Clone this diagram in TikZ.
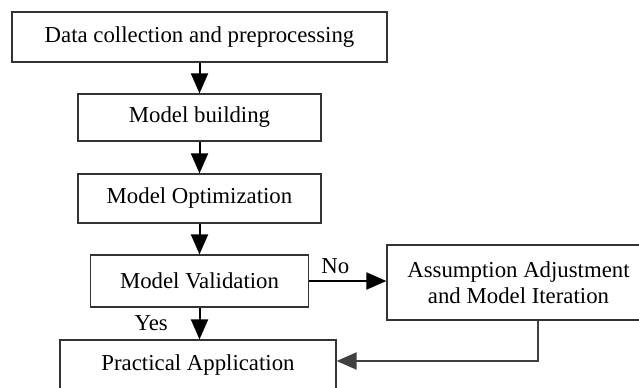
\documentclass[tikz,border=0pt]{standalone}
\usepackage{fontspec}
\setmainfont{Liberation Serif}
\usetikzlibrary{arrows.meta}

\begin{document}
\begin{tikzpicture}[x = 0.5pt, y = -0.5pt, > = {Triangle[length = 10pt, width = 8.5pt]},
	font = \fontsize{11.4}{12.8}\selectfont,
	stage/.style = {draw = black!80, line width = 0.6pt, inner sep = 0pt, align = center},
	flow/.style = {->, line width = 1pt}]

	\useasboundingbox (0, 0) rectangle (639, 387);

	% Stages

	\node [stage, minimum width = 187.5pt, minimum height = 25pt] (data) at (199.5, 37) {Data collection and preprocessing};
	\node [stage, minimum width = 121.5pt, minimum height = 23.5pt] (build) at (199.5, 117.5) {Model building};
	\node [stage, minimum width = 121.5pt, minimum height = 24.5pt] (optim) at (199.5, 198.5) {Model Optimization};
	\node [stage, minimum width = 109pt, minimum height = 26pt] (valid) at (199.5, 281) {Model Validation};
	\node [stage, minimum width = 138pt, minimum height = 25pt] (apply) at (198, 365) {Practical Application};
	\node [stage, minimum width = 131.5pt, minimum height = 37.5pt] (adjust) at (518.5, 282.5) {Assumption Adjustment\\and Model Iteration};

	% Arrows

	\draw [flow] (data) -- (build);
	\draw [flow] (build) -- (optim);
	\draw [flow] (optim) -- (valid);
	\draw [flow] (valid.south) -- (valid.south |- apply.north) node [midway, left = 12pt] {Yes};
	\draw [flow] (valid.east) -- (valid.east -| adjust.west) node [pos = 0.34, above] {No};

	% Back to the application box

	\coordinate (turn) at (538, 361);
	\draw [flow, black!75] (adjust.south -| turn) -- (turn) -- (apply.east |- turn);

\end{tikzpicture}
\end{document}
